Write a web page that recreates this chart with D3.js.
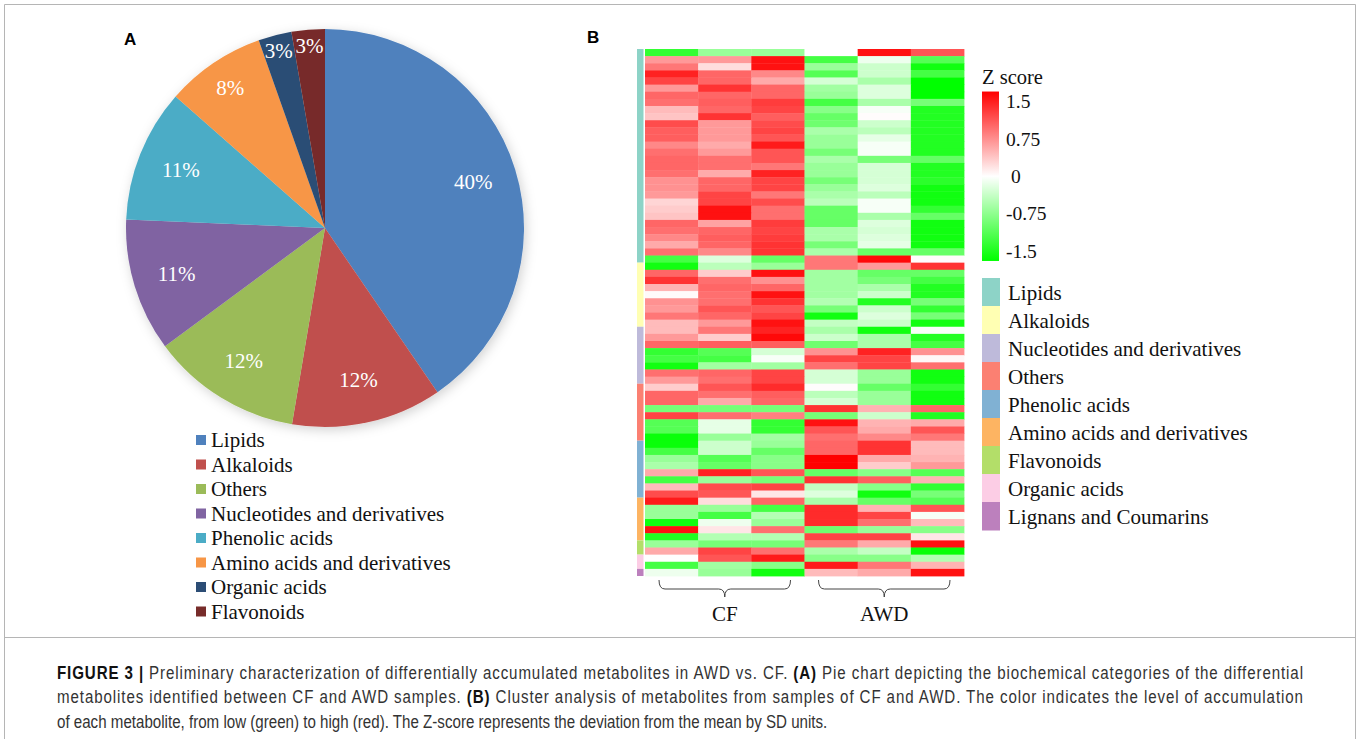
<!DOCTYPE html>
<html>
<head>
<meta charset="utf-8">
<script src="https://cdn.jsdelivr.net/npm/d3@7"></script>
<style>
  body { margin: 0; background: #fff; }
  svg { display: block; }
</style>
</head>
<body>
<svg id="fig" width="1360" height="739"></svg>
<script>
// ---- data: pie (panel A) ----
const pieCategories = ["Lipids", "Alkaloids", "Others", "Nucleotides and derivatives",
  "Phenolic acids", "Amino acids and derivatives", "Organic acids", "Flavonoids"];
const pieShares = [40.4, 12.2, 12.2, 10.8, 10.8, 8.1, 2.7, 2.7];
const pieColors = ["#4f81bd", "#c0504d", "#9bbb59", "#8064a2", "#4bacc6", "#f79646", "#2c4d75", "#772c2a"];

// ---- data: heatmap (panel B) ----
const sampleGroups = ["CF", "AWD"];
const samplesPerGroup = 3;
const rowGroups = ["Lipids", "Alkaloids", "Nucleotides and derivatives", "Others", "Phenolic acids",
  "Amino acids and derivatives", "Flavonoids", "Organic acids", "Lignans and Coumarins"];
const rowGroupSizes = [30, 9, 8, 8, 8, 6, 2, 2, 1];
const rowGroupColors = ["#8dd3c7", "#ffffb3", "#bebada", "#fb8072", "#80b1d3", "#fdb462", "#b3de69", "#fccde5", "#bc80bd"];
const zTicks = [1.5, 0.75, 0, -0.75, -1.5];
// z scores, one row per metabolite: CF1 CF2 CF3 AWD1 AWD2 AWD3
const zScores = [
  [-1.2, -0.6, -0.6, 0, 1.4, 1.0],
  [0.6, 0.6, 1.4, -1.1, -0.1, -1.0],
  [0.8, 0.2, 1.4, -0.6, -0.3, -1.4],
  [1.3, 0.9, 0.7, -1.0, -0.3, -1.1],
  [1.1, 0.9, 0.5, -0.25, -0.5, -1.5],
  [0.6, 1.2, 0.9, -0.55, -0.2, -1.5],
  [0.9, 0.9, 0.9, -0.6, -0.2, -1.5],
  [0.85, 0.95, 1.15, -1.1, -0.5, -0.8],
  [0.4, 0.9, 1.1, -0.7, -0.05, -1.3],
  [0.35, 1.2, 0.95, -0.9, 0.02, -1.3],
  [1.05, 0.6, 1.05, -0.85, -0.3, -1.3],
  [0.95, 0.6, 1.1, -0.5, -0.4, -1.3],
  [0.95, 0.6, 1.0, -0.6, -0.15, -1.3],
  [0.7, 0.5, 1.35, -0.6, -0.05, -1.3],
  [0.85, 0.6, 1.0, -0.8, -0.05, -1.3],
  [0.9, 0.85, 1.0, -0.5, -0.8, -0.9],
  [0.9, 0.85, 0.8, -0.6, -0.25, -1.3],
  [0.85, 0.5, 1.3, -0.6, -0.25, -1.3],
  [0.65, 0.9, 1.1, -0.8, -0.25, -1.25],
  [0.65, 0.9, 1.1, -0.6, -0.2, -1.4],
  [0.6, 1.1, 0.8, -0.5, -0.4, -1.4],
  [0.25, 1.1, 1.05, -0.4, -0.05, -1.4],
  [0.3, 1.4, 0.85, -0.9, -0.05, -1.2],
  [0.35, 1.4, 0.85, -0.9, -0.5, -0.9],
  [0.9, 0.55, 1.15, -0.9, -0.2, -1.4],
  [0.85, 0.9, 1.1, -0.5, -0.25, -1.4],
  [0.7, 0.95, 1.15, -0.5, -0.2, -1.4],
  [0.5, 0.9, 1.2, -0.8, -0.15, -1.4],
  [0.85, 0.7, 1.2, -0.5, -0.9, -0.9],
  [-1.1, -0.2, -0.9, 0.8, 1.45, 0.02],
  [-1.4, -0.4, -0.6, 0.8, 0.6, 1.2],
  [0.9, 0.3, 1.4, -0.55, -0.9, -0.9],
  [1.2, 0.85, 0.65, -0.55, -0.8, -1.1],
  [0.45, 0.9, 0.9, -0.55, -0.5, -1.3],
  [0.03, 0.85, 1.4, -0.55, -0.3, -1.3],
  [0.65, 0.85, 1.2, -0.45, -1.3, -0.8],
  [0.6, 1.0, 1.0, -0.8, -0.3, -1.2],
  [0.8, 0.9, 1.1, -1.4, -0.2, -0.8],
  [0.4, 0.6, 1.4, -0.35, -0.3, -1.4],
  [0.4, 0.8, 1.3, -0.5, -1.4, -0.05],
  [0.6, 0.3, 1.45, -0.3, -0.5, -1.3],
  [0.9, 0.95, 0.95, -0.85, -0.5, -1.1],
  [-1.2, -1.0, -0.25, 0.65, 1.3, 0.65],
  [-1.1, -1.1, -0.05, 1.1, 1.1, 0.05],
  [-1.4, -0.55, -0.55, 0.85, 1.1, 0.85],
  [0.85, 0.9, 1.1, -0.25, -0.6, -1.4],
  [0.6, 0.85, 1.1, -0.25, -0.6, -1.4],
  [0.3, 1.0, 1.25, 0.02, -0.9, -1.2],
  [0.9, 0.85, 0.95, -0.4, -0.6, -1.4],
  [0.9, 0.5, 0.9, -0.25, -0.6, -1.4],
  [-0.8, -0.8, -0.8, 1.2, 0.45, 0.9],
  [1.1, 0.85, 0.75, -0.8, -0.3, -1.3],
  [-1.0, -0.15, -1.2, 1.4, 0.45, 0.5],
  [-1.0, -0.15, -1.2, 1.0, 0.5, 1.0],
  [-1.45, -0.6, -0.55, 0.85, 0.7, 0.8],
  [-1.45, -0.3, -0.6, 0.9, 1.2, 0.4],
  [-1.1, -0.3, -0.9, 0.9, 1.2, 0.4],
  [-0.6, -1.0, -0.7, 1.5, 0.5, 0.45],
  [-0.5, -0.9, -0.7, 1.5, 0.3, 0.6],
  [0.5, 1.3, 1.0, -0.9, -0.7, -1.0],
  [-1.1, -0.6, -0.8, 1.2, 0.95, 0.45],
  [0.4, 1.05, 1.1, -0.35, -0.7, -1.2],
  [1.05, 1.0, 0.15, -0.2, -1.4, -0.8],
  [1.35, 0.2, 0.9, -0.5, -0.9, -1.0],
  [-0.6, -0.6, -1.1, 1.25, 0.45, 1.0],
  [-0.6, -1.1, -0.45, 1.25, 1.1, -0.05],
  [-1.4, -0.1, -0.6, 1.25, 0.85, 0.4],
  [1.4, 0.15, 0.85, -0.85, -0.6, -0.7],
  [-1.3, -0.45, -0.45, 1.1, 1.1, 0.15],
  [-0.6, -0.8, -0.8, 0.8, 0.5, 1.4],
  [0.5, 1.1, 0.85, -0.5, -0.35, -1.45],
  [0.0, 1.0, 1.35, -0.7, -0.7, -0.45],
  [-1.1, -0.55, -0.7, 1.35, 0.8, 0.45],
  [-0.1, -0.6, -1.4, 0.4, 0.5, 1.4]
];

const captionLines = [
  [{ t: "FIGURE 3 | ", b: true }, { t: "Preliminary characterization of differentially accumulated metabolites in AWD vs. CF. " }, { t: "(A)", b: true }, { t: " Pie chart depicting the biochemical categories of the differential" }],
  [{ t: "metabolites identified between CF and AWD samples. " }, { t: "(B)", b: true }, { t: " Cluster analysis of metabolites from samples of CF and AWD. The color indicates the level of accumulation" }],
  [{ t: "of each metabolite, from low (green) to high (red). The Z-score represents the deviation from the mean by SD units." }]
];

const svg = d3.select("#fig");
const serif = "'Liberation Serif', 'Times New Roman', serif";
const sans = "'Liberation Sans', Arial, sans-serif";

// outer frame (open at the bottom, the caption box runs off the page)
svg.append("path")
  .attr("d", "M4.5,745 L4.5,4.5 L1355.5,4.5 L1355.5,745")
  .attr("fill", "none").attr("stroke", "#b5b5b5");
svg.append("line").attr("x1", 4.5).attr("x2", 1355.5).attr("y1", 637.5).attr("y2", 637.5)
  .attr("stroke", "#b5b5b5");

// panel letters
svg.append("text").attr("x", 124).attr("y", 45).text("A")
  .style("font-family", sans).style("font-weight", "bold").style("font-size", "17px");
svg.append("text").attr("x", 587).attr("y", 43).text("B")
  .style("font-family", sans).style("font-weight", "bold").style("font-size", "17px");

// ---- pie ----
const defs = svg.append("defs");
const shadow = defs.append("filter").attr("id", "pieShadow")
  .attr("x", "-20%").attr("y", "-20%").attr("width", "140%").attr("height", "140%");
shadow.append("feDropShadow").attr("dx", 2).attr("dy", 3).attr("stdDeviation", 6)
  .attr("flood-color", "#000").attr("flood-opacity", 0.18);

const pieR = 199;
const pieG = svg.append("g").attr("transform", "translate(325,228)");
const pie = d3.pie().sort(null).value(d => d.v);
const pieData = pie(pieCategories.map((c, i) => ({ c, v: pieShares[i], col: pieColors[i] })));
const total = d3.sum(pieShares);
const arc = d3.arc().innerRadius(0).outerRadius(pieR);

pieG.append("g").attr("filter", "url(#pieShadow)")
  .selectAll("path").data(pieData).join("path")
  .attr("d", arc)
  .attr("fill", d => d.data.col);

pieG.selectAll("text.lbl").data(pieData).join("text")
  .attr("class", "lbl")
  .attr("transform", d => {
    const share = d.data.v / total;
    const k = share < 0.05 ? 0.92 : share < 0.1 ? 0.85 : 0.78;
    const a = (d.startAngle + d.endAngle) / 2;
    return `translate(${Math.sin(a) * pieR * k},${-Math.cos(a) * pieR * k})`;
  })
  .attr("text-anchor", "middle")
  .attr("dy", "0.35em")
  .attr("fill", "#fff")
  .style("font-family", serif)
  .style("font-size", "21px")
  .text(d => Math.round(d.data.v) + "%");

// pie legend
const pieLeg = svg.append("g").attr("transform", "translate(196,440)");
const pieLegItem = pieLeg.selectAll("g").data(pieCategories).join("g")
  .attr("transform", (d, i) => `translate(0,${i * 24.5})`);
pieLegItem.append("rect").attr("x", 0).attr("y", -5).attr("width", 10).attr("height", 10)
  .attr("fill", (d, i) => pieColors[i]);
pieLegItem.append("text").attr("x", 15).attr("dy", "0.35em").text(d => d)
  .style("font-family", serif).style("font-size", "21px").attr("fill", "#111");

// ---- heatmap ----
const nRows = zScores.length;
const columns = d3.range(sampleGroups.length * samplesPerGroup);
const x = d3.scaleBand().domain(columns).range([645, 964]);
const y = d3.scaleBand().domain(d3.range(nRows)).range([49, 576]);
const color = d3.scaleLinear().domain([-1.5, 0, 1.5]).range(["#00ff00", "#ffffff", "#ff0000"]).clamp(true);

const cells = [];
zScores.forEach((row, r) => row.forEach((v, c) => cells.push({ r, c, v })));
svg.append("g").selectAll("rect").data(cells).join("rect")
  .attr("x", d => x(d.c))
  .attr("y", d => y(d.r))
  .attr("width", x.bandwidth() + 0.4)
  .attr("height", y.bandwidth() + 0.4)
  .attr("fill", d => color(d.v));

// row group side bar
const groupStarts = d3.cumsum([0, ...rowGroupSizes]);
svg.append("g").selectAll("rect").data(rowGroups).join("rect")
  .attr("x", 637)
  .attr("y", (d, i) => y(groupStarts[i]))
  .attr("width", 6.5)
  .attr("height", (d, i) => rowGroupSizes[i] * y.step())
  .attr("fill", (d, i) => rowGroupColors[i]);

// sample group brackets
const brG = svg.append("g");
sampleGroups.forEach((g, gi) => {
  const x0 = x(gi * samplesPerGroup) + 14;
  const x1 = x(gi * samplesPerGroup + samplesPerGroup - 1) + x.bandwidth() - 14;
  const xm = (x0 + x1) / 2;
  const yt = 580, yb = 589, yn = 597;
  brG.append("path")
    .attr("d", `M${x0},${yt} Q${x0},${yb} ${x0 + 6},${yb} L${xm - 6},${yb} Q${xm},${yb} ${xm},${yn} Q${xm},${yb} ${xm + 6},${yb} L${x1 - 6},${yb} Q${x1},${yb} ${x1},${yt}`)
    .attr("fill", "none").attr("stroke", "#444").attr("stroke-width", 1);
  brG.append("text").attr("x", xm).attr("y", 621).attr("text-anchor", "middle").text(g)
    .style("font-family", serif).style("font-size", "21px").attr("fill", "#111");
});

// colour key
const keyX = 982, keyW = 17;
const zy = d3.scaleLinear().domain([1.5, -1.5]).range([101.5, 251]);
const grad = defs.append("linearGradient").attr("id", "zgrad")
  .attr("x1", 0).attr("y1", 0).attr("x2", 0).attr("y2", 1);
grad.append("stop").attr("offset", "0%").attr("stop-color", color(1.7));
grad.append("stop").attr("offset", "50%").attr("stop-color", color(0));
grad.append("stop").attr("offset", "100%").attr("stop-color", color(-1.7));
svg.append("rect").attr("x", keyX).attr("y", zy(1.7)).attr("width", keyW)
  .attr("height", zy(-1.7) - zy(1.7)).attr("fill", "url(#zgrad)");
svg.append("text").attr("x", 982).attr("y", 84).text("Z score")
  .style("font-family", serif).style("font-size", "20.5px").attr("fill", "#111");
svg.append("g").selectAll("text").data(zTicks).join("text")
  .attr("x", d => d === 0 ? 1011 : 1006)
  .attr("y", d => zy(d))
  .attr("dy", "0.35em")
  .text(d => d)
  .style("font-family", serif).style("font-size", "19.5px").attr("fill", "#111");

// row group legend
const rgLeg = svg.append("g").attr("transform", "translate(982,278)");
const rgItem = rgLeg.selectAll("g").data(rowGroups).join("g")
  .attr("transform", (d, i) => `translate(0,${i * 28})`);
rgItem.append("rect").attr("width", 18).attr("height", 28.5).attr("fill", (d, i) => rowGroupColors[i]);
rgItem.append("text").attr("x", 26).attr("y", 15).attr("dy", "0.35em").text(d => d)
  .style("font-family", serif).style("font-size", "21px").attr("fill", "#111");

// ---- caption: condensed font look, first two lines justified ----
const cap = svg.append("g");
const capTexts = captionLines.map((line, li) => {
  const t = cap.append("text").attr("x", 0).attr("y", 679 + li * 24.5)
    .style("font-family", sans)
    .style("font-size", "17.5px").attr("fill", "#333");
  line.forEach(s => t.append("tspan").text(s.t).style("font-weight", s.b ? "bold" : "normal")
    .attr("fill", s.b ? "#111" : "#333"));
  return t;
});
const squeeze = 771 / capTexts[2].node().getComputedTextLength();
cap.attr("transform", `translate(57,0) scale(${squeeze},1)`);
capTexts.slice(0, 2).forEach(t => t.attr("textLength", 1246 / squeeze).attr("lengthAdjust", "spacing"));
</script>
</body>
</html>
